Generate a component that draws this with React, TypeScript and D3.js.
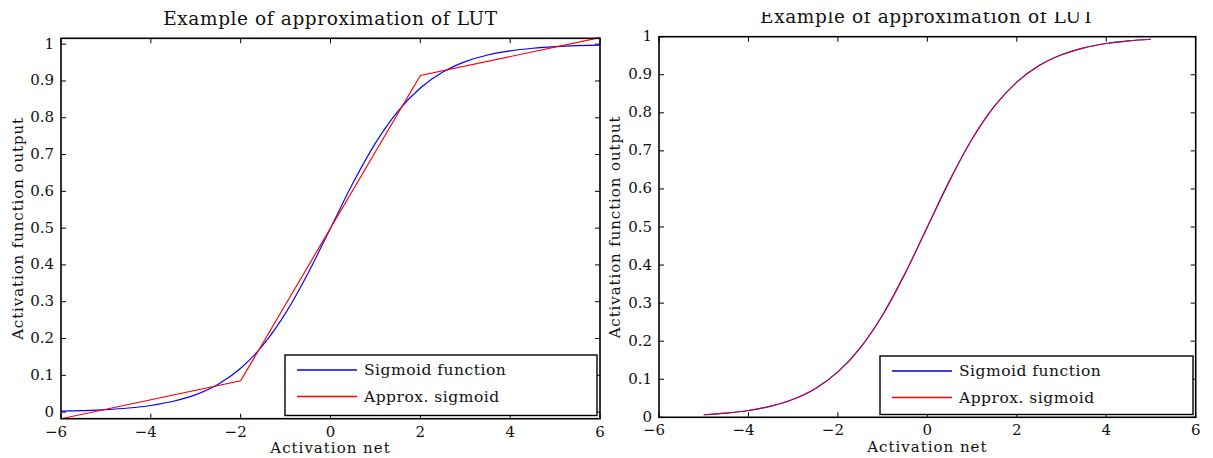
import React from "react";
import * as d3 from "d3";

// ---- data ----
const sigmoidX = [-6, -5.5, -5, -4.5, -4, -3.5, -3, -2.5, -2, -1.5, -1, -0.5, 0, 0.5, 1, 1.5, 2, 2.5, 3, 3.5, 4, 4.5, 5, 5.5, 6];
const sigmoidY = [0.0025, 0.0041, 0.0067, 0.011, 0.018, 0.0293, 0.0474, 0.0759, 0.1192, 0.1824, 0.2689, 0.3775, 0.5, 0.6225, 0.7311, 0.8176, 0.8808, 0.9241, 0.9526, 0.9707, 0.982, 0.989, 0.9933, 0.9959, 0.9975];
const approxX = [-6, -2, 2, 6];
const approxY = [-0.018, 0.085, 0.915, 1.018];
const rightX = [-5, -4.5, -4, -3.5, -3, -2.5, -2, -1.5, -1, -0.5, 0, 0.5, 1, 1.5, 2, 2.5, 3, 3.5, 4, 4.5, 5];
const rightSig = [0.0067, 0.011, 0.018, 0.0293, 0.0474, 0.0759, 0.1192, 0.1824, 0.2689, 0.3775, 0.5, 0.6225, 0.7311, 0.8176, 0.8808, 0.9241, 0.9526, 0.9707, 0.982, 0.989, 0.9933];
const rightApprox = [0.0067, 0.011, 0.018, 0.0293, 0.0474, 0.0759, 0.1192, 0.1824, 0.2689, 0.3775, 0.5, 0.6225, 0.7311, 0.8176, 0.8808, 0.9241, 0.9526, 0.9707, 0.982, 0.989, 0.9933];
const xTicks = [-6, -4, -2, 0, 2, 4, 6];
const yTicks = [0, 0.1, 0.2, 0.3, 0.4, 0.5, 0.6, 0.7, 0.8, 0.9, 1];
const titleText = "Example of approximation of LUT";
const xLabelText = "Activation net";
const yLabelText = "Activation function output";
const legendLabels = ["Sigmoid function", "Approx. sigmoid"];

const FONT = "'DejaVu Serif', 'Liberation Serif', serif";

type Series = { xs: number[]; ys: number[]; color: string; opacity?: number };

type PanelProps = {
  left: number; right: number; top: number; bottom: number;
  yDomain: [number, number];
  series: Series[];
  titleY: number;
  clipTitleTop?: number;
  yLabelX: number;
  legend: { x0: number; y0: number; x1: number; y1: number; colors: string[] };
  id: string;
};

function fmtX(v: number) {
  return v < 0 ? "\u2212" + Math.abs(v) : String(v);
}

function Panel(p: PanelProps) {
  const x = d3.scaleLinear().domain([-6, 6]).range([p.left, p.right]);
  const y = d3.scaleLinear().domain(p.yDomain).range([p.bottom, p.top]);
  const tl = 5;
  const cx = (p.left + p.right) / 2;
  const cy = (p.top + p.bottom) / 2;
  const lg = p.legend;
  return (
    <g>
      {p.clipTitleTop !== undefined && (
        <defs>
          <clipPath id={p.id + "-tclip"}>
            <rect x={p.left - 100} y={p.clipTitleTop} width={p.right - p.left + 200} height={100} />
          </clipPath>
        </defs>
      )}
      <text x={cx} y={p.titleY} textAnchor="middle" fontFamily={FONT} fontSize={18.5} letterSpacing={0.6}
        fill="#111" clipPath={p.clipTitleTop !== undefined ? `url(#${p.id}-tclip)` : undefined}>{titleText}</text>
      {/* ticks */}
      {xTicks.map((t) => (
        <g key={"x" + t}>
          <line x1={x(t)} x2={x(t)} y1={p.bottom} y2={p.bottom - tl} stroke="#000" strokeWidth={1} />
          <line x1={x(t)} x2={x(t)} y1={p.top} y2={p.top + tl} stroke="#000" strokeWidth={1} />
          <text x={x(t) - (t < 0 ? 5 : 0)} y={p.bottom + 18} textAnchor="middle" fontFamily={FONT} fontSize={15} fill="#111">{fmtX(t)}</text>
        </g>
      ))}
      {yTicks.map((t) => (
        <g key={"y" + t}>
          <line x1={p.left} x2={p.left + tl} y1={y(t)} y2={y(t)} stroke="#000" strokeWidth={1} />
          <line x1={p.right} x2={p.right - tl} y1={y(t)} y2={y(t)} stroke="#000" strokeWidth={1} />
          <text x={p.left - 7} y={y(t) + 4.5} textAnchor="end" fontFamily={FONT} fontSize={15} fill="#111">{String(t)}</text>
        </g>
      ))}
      {/* series */}
      {p.series.map((s, i) => {
        const pts = s.xs.map((v, k) => [v, s.ys[k]] as [number, number]);
        const line = d3.line<[number, number]>().x((d) => x(d[0])).y((d) => y(d[1]))
          .curve(s.xs.length > 4 ? d3.curveMonotoneX : d3.curveLinear);
        return <path key={i} d={line(pts) || ""} fill="none" stroke={s.color} strokeWidth={1.15} strokeOpacity={s.opacity ?? 1} />;
      })}
      {/* frame */}
      <rect x={p.left} y={p.top} width={p.right - p.left} height={p.bottom - p.top} fill="none" stroke="#000" strokeWidth={1.6} />
      {/* legend */}
      <rect x={lg.x0} y={lg.y0} width={lg.x1 - lg.x0} height={lg.y1 - lg.y0} fill="#fff" stroke="#000" strokeWidth={1.4} />
      {legendLabels.map((lab, i) => {
        const yy = lg.y0 + 15 + i * 26.5;
        return (
          <g key={lab}>
            <line x1={lg.x0 + 12} x2={lg.x0 + 72} y1={yy} y2={yy} stroke={lg.colors[i]} strokeWidth={1.3} />
            <text x={lg.x0 + 79} y={yy + 5} fontFamily={FONT} fontSize={15.5} letterSpacing={0.5} fill="#111">{lab}</text>
          </g>
        );
      })}
      {/* axis labels */}
      <text x={cx} y={p.bottom + 34.5} textAnchor="middle" fontFamily={FONT} fontSize={15} letterSpacing={1} fill="#111">{xLabelText}</text>
      <text transform={`translate(${p.yLabelX},${cy}) rotate(-90)`} textAnchor="middle" fontFamily={FONT} fontSize={15}
        letterSpacing={0.9} fill="#111">{yLabelText}</text>
    </g>
  );
}

export default function App() {
  return (
    <svg width={1213} height={458} style={{ position: "absolute", left: 0, top: 0, background: "#fff" }}>
      <rect x={0} y={0} width={1213} height={458} fill="#fff" />
      <Panel id="l" left={61} right={600} top={38.3} bottom={418.7} yDomain={[-0.018, 1.016]}
        series={[{ xs: sigmoidX, ys: sigmoidY, color: "#0000ff" }, { xs: approxX, ys: approxY, color: "#ff0000" }]}
        titleY={25} yLabelX={23}
        legend={{ x0: 285, y0: 355, x1: 597, y1: 415.5, colors: ["#0000ff", "#ff0000"] }} />
      <Panel id="r" left={659} right={1195.7} top={36.7} bottom={417.3} yDomain={[0, 1]}
        series={[{ xs: rightX, ys: rightSig, color: "#0000ff" }, { xs: rightX, ys: rightApprox, color: "#ff0000", opacity: 0.72 }]}
        titleY={23} clipTitleTop={12} yLabelX={620}
        legend={{ x0: 880, y0: 356, x1: 1193, y1: 414.5, colors: ["#0000cc", "#ff0000"] }} />
    </svg>
  );
}
